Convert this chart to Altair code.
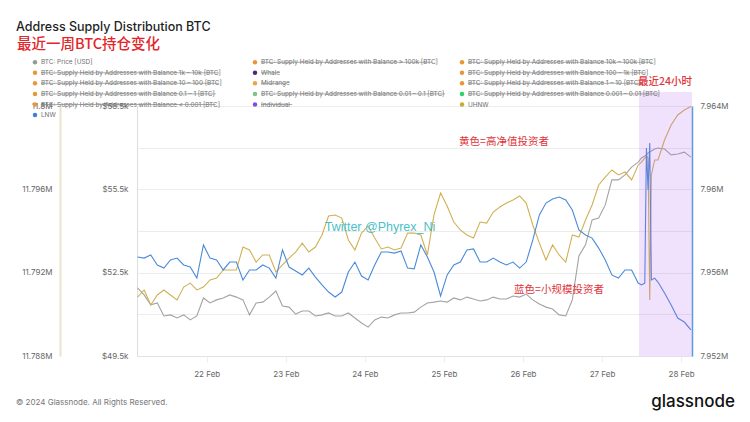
import altair as alt
import pandas as pd
from datetime import datetime, timedelta

# ---------------- data ----------------
hours = list(range(0, 153, 2)) + [153, 154, 154.5, 155, 155.5, 156, 157] + list(range(158, 169, 2))

price = [51950, 51700, 51340, 51410, 50940, 50980, 50870, 50980, 50800, 50940,
         51590, 51410, 51520, 51590, 51700, 51620, 51520, 50980, 51410, 51440,
         51620, 51840, 51300, 51260, 51010, 51120, 51120, 50940, 50980, 51050,
         50940, 50940, 51050, 50870, 50690, 50540, 50800, 50900, 50870, 50980,
         51050, 51050, 51080, 51260, 51410, 51440, 51480, 51440, 51590, 51520,
         51620, 51550, 51480, 51520, 51620, 51550, 51550, 51660, 51620, 51730,
         51520, 51370, 51260, 51190, 50980, 50940, 51520, 53100, 53500, 54400,
         54470, 54940, 55840, 55840, 56020, 56300, 56480,
         56630, 56700, 56740, 56810, 56840, 56880, 56950,
         56990, 56950, 56740, 56770, 56840, 56660]

uhnw = [11.79083, 11.79117, 11.79045, 11.79093, 11.79117, 11.79093, 11.79069, 11.79131, 11.79150, 11.79117,
        11.79131, 11.79165, 11.79174, 11.79213, 11.79213, 11.79213, 11.79323, 11.79309, 11.79251, 11.79285,
        11.79285, 11.79203, 11.79237, 11.79270, 11.79299, 11.79342, 11.79299, 11.79323, 11.79381, 11.79472,
        11.79477, 11.79462, 11.79357, 11.79309, 11.79390, 11.79424, 11.79366, 11.79314, 11.79323, 11.79309,
        11.79318, 11.79390, 11.79390, 11.79381, 11.79285, 11.79477, 11.79582, 11.79520, 11.79443, 11.79405,
        11.79381, 11.79366, 11.79443, 11.79438, 11.79491, 11.79515, 11.79534, 11.79549, 11.79568, 11.79534,
        11.79429, 11.79342, 11.79261, 11.79333, 11.79285, 11.79251, 11.79381, 11.79371, 11.79453, 11.79525,
        11.79621, 11.79659, 11.79693, 11.79669, 11.79683, 11.79645, 11.79717,
        11.79731, 11.79750, 11.79760, 11.79750, 11.79069, 11.79669, 11.79741,
        11.79741, 11.79837, 11.79909, 11.79957, 11.79981, 11.79998]

lnw = [7.95675, 7.95670, 7.95685, 7.95637, 7.95622, 7.95661, 7.95670, 7.95637, 7.95627, 7.95574,
       7.95733, 7.95670, 7.95661, 7.95613, 7.95651, 7.95651, 7.95565, 7.95613, 7.95613, 7.95637,
       7.95622, 7.95574, 7.95709, 7.95627, 7.95608, 7.95589, 7.95622, 7.95579, 7.95541, 7.95507,
       7.95483, 7.95507, 7.95603, 7.95651, 7.95584, 7.95565, 7.95637, 7.95699, 7.95699, 7.95694,
       7.95704, 7.95622, 7.95618, 7.95733, 7.95675, 7.95603, 7.95488, 7.95589, 7.95637, 7.95651,
       7.95709, 7.95714, 7.95651, 7.95651, 7.95670, 7.95651, 7.95637, 7.95651, 7.95622, 7.95651,
       7.95757, 7.95877, 7.95934, 7.95954, 7.95963, 7.95949, 7.95901, 7.95805, 7.95781, 7.95766,
       7.95718, 7.95661, 7.95589, 7.95574, 7.95613, 7.95613, 7.95550,
       7.95541, 7.95550, 7.96198, 7.95997, 7.96222, 7.95565, 7.95574,
       7.95555, 7.95502, 7.95445, 7.95382, 7.95363, 7.95325]

price_ticks = [49500, 51000, 52500, 54000, 55500, 57000, 58500]
uhnw_ticks = [11.788, 11.792, 11.796, 11.8]
lnw_ticks = [7.952, 7.956, 7.96, 7.964]
day_ticks = [22, 23, 24, 25, 26, 27, 28]

legend_labels = [
    "BTC: Price [USD]",
    "BTC: Supply Held by Addresses with Balance > 100k [BTC]",
    "BTC: Supply Held by Addresses with Balance 10k – 100k [BTC]",
    "BTC: Supply Held by Addresses with Balance 1k – 10k [BTC]",
    "Whale",
    "BTC: Supply Held by Addresses with Balance 100 – 1k [BTC]",
    "BTC: Supply Held by Addresses with Balance 10 – 100 [BTC]",
    "Midrange",
    "BTC: Supply Held by Addresses with Balance 1 – 10 [BTC]",
    "BTC: Supply Held by Addresses with Balance 0.1 – 1 [BTC]",
    "BTC: Supply Held by Addresses with Balance 0.01 – 0.1 [BTC]",
    "BTC: Supply Held by Addresses with Balance 0.001 – 0.01 [BTC]",
    "BTC: Supply Held by Addresses with Balance < 0.001 [BTC]",
    "Individual",
    "UHNW",
    "LNW",
]
legend_colors = ["#8f9c9a", "#e8963c", "#e8963c", "#e8963c", "#4b2a7a", "#e8963c",
                 "#e8963c", "#e8a548", "#e8963c", "#e8963c", "#7cc48a", "#2ed46a",
                 "#e8963c", "#7b4fe0", "#c9a83a", "#3b82dc"]
legend_struck = [False, True, True, True, True, True, True, True, True, True, True, True,
                 True, True, False, False]

# ---------------- layout ----------------
W, H = 555, 250
GOLD = "#d1b055"
BLUE = "#4a8ad8"
GRAY = "#a3a3a3"
RED = "#e0343a"

base = datetime(2024, 2, 21, 3, 0)
times = [(base + timedelta(hours=h)).strftime("%Y-%m-%dT%H:%M:%SZ") for h in hours]
df = pd.DataFrame({"t": times, "price": price, "uhnw": uhnw, "lnw": lnw})

xscale = alt.Scale(type="utc", domain=[
    alt.DateTime(year=2024, month=2, date=21, hours=2, minutes=50, utc=True),
    alt.DateTime(year=2024, month=2, date=28, hours=3, minutes=20, utc=True)])
xaxis = alt.Axis(title=None, format="%d %b",
                 values=[alt.DateTime(year=2024, month=2, date=d, utc=True) for d in day_ticks],
                 labelFontSize=8, labelColor="#666", labelPadding=8, tickSize=6,
                 tickColor="#eeeeee", domainColor="#e3e3e3", grid=False, labelFont="Inter")
X = alt.X("t:T", scale=xscale, axis=xaxis)

price_line = alt.Chart(df).mark_line(color=GRAY, strokeWidth=1.1).encode(
    x=X,
    y=alt.Y("price:Q", scale=alt.Scale(domain=[49500, 58500], nice=False, zero=False),
            axis=alt.Axis(orient="left", values=price_ticks, title=None,
                          labelExpr="datum.value % 3000 == 1500 ? '$' + format(datum.value/1000, '.1f') + 'k' : ''",
                          grid=True, gridColor="#ececec", domainColor="#dddddd", ticks=False,
                          labelPadding=9, labelFontSize=8, labelColor="#666", labelFont="Inter")))

uhnw_line = alt.Chart(df).mark_line(color=GOLD, strokeWidth=1.1).encode(
    x=X,
    y=alt.Y("uhnw:Q", scale=alt.Scale(domain=[11.788, 11.8], nice=False, zero=False),
            axis=alt.Axis(orient="left", offset=77, values=uhnw_ticks, title=None,
                          labelExpr="format(datum.value, '.3~f') + 'M'", grid=False,
                          domainColor="#ebe1cc", domainWidth=2, ticks=False,
                          labelPadding=8, labelFontSize=8, labelColor="#666", labelFont="Inter")))

lnw_line = alt.Chart(df).mark_line(color=BLUE, strokeWidth=1.1).encode(
    x=X,
    y=alt.Y("lnw:Q", scale=alt.Scale(domain=[7.952, 7.964], nice=False, zero=False),
            axis=alt.Axis(orient="right", values=lnw_ticks, title=None,
                          labelExpr="format(datum.value, '.3~f') + 'M'", grid=False,
                          domainColor="#5b9be0", domainWidth=1.5, ticks=False,
                          labelPadding=8, labelFontSize=8, labelColor="#666", labelFont="Inter")))

# last-24h highlight
hl = pd.DataFrame({"a": ["2024-02-27T11:15:00Z"], "b": ["2024-02-28T03:20:00Z"]})
highlight = alt.Chart(hl).mark_rect(color="#b36bf0", opacity=0.2).encode(
    x=alt.X("a:T", scale=xscale), x2="b:T", y=alt.value(-14), y2=alt.value(H))


def txt(s, x, y, size, color, font="Inter", weight="normal", align="left"):
    return alt.Chart(pd.DataFrame({"s": [s]})).mark_text(
        fontSize=size, color=color, font=font, fontWeight=weight, align=align,
        baseline="middle").encode(x=alt.value(x), y=alt.value(y), text="s:N")


CJK = "Noto Sans CJK SC"
texts = [
    txt("Address Supply Distribution BTC", -121, -79, 12.5, "#1f1f1f", weight=500),
    txt("最近一周BTC持仓变化", -120, -61, 14.5, "#e3262b", font=CJK, weight=500),
    txt("最近24小时", 528, -24, 10.5, RED, font=CJK, weight=500, align="center"),
    txt("黄色=高净值投资者", 367, 36, 10.5, RED, font=CJK, align="center"),
    txt("蓝色=小规模投资者", 422, 184, 10.5, RED, font=CJK, align="center"),
    txt("Twitter @Phyrex_Ni", 243, 121, 12.5, "#4cbfc8", font="Liberation Sans", align="center"),
    txt("© 2024 Glassnode. All Rights Reserved.", -121, 297, 8, "#777777"),
    txt("glassnode", 598, 296, 17, "#111111", weight=500, align="right"),
]

# legend
col_x = [-102, 118, 325]
row_y = [-43.7, -33.2, -22.7, -12.1, -1.5, 9.0]
CW = 3.12
leg = []
for i, lab in enumerate(legend_labels):
    r, c = divmod(i, 3)
    lx = col_x[c]
    leg.append({"label": lab, "color": legend_colors[i], "dx": lx, "tx": lx + 6,
                "tx2": lx + 6 + len(lab) * CW, "ly": row_y[r], "struck": legend_struck[i]})
legdf = pd.DataFrame(leg)
legend_dots = alt.Chart(legdf).mark_circle(size=20, opacity=1).encode(
    x=alt.X("dx:Q", scale=None, axis=None), y=alt.Y("ly:Q", scale=None, axis=None),
    color=alt.Color("color:N", scale=None))
legend_text = alt.Chart(legdf).mark_text(align="left", baseline="middle", fontSize=6.4,
                                         font="Inter", color="#6f6f6f").encode(
    x=alt.X("tx:Q", scale=None, axis=None), y=alt.Y("ly:Q", scale=None, axis=None),
    text="label:N")
legend_strike = alt.Chart(legdf).transform_filter("datum.struck").mark_rule(
    color="#8a8a8a", strokeWidth=0.7).encode(
    x=alt.X("tx:Q", scale=None, axis=None), x2="tx2:Q",
    y=alt.Y("ly:Q", scale=None, axis=None))

chart = alt.layer(price_line, uhnw_line, lnw_line, highlight,
                  legend_dots, legend_text, legend_strike, *texts).resolve_scale(
    y="independent").properties(
    width=W, height=H,
    autosize=alt.AutoSizeParams(type="none"),
    padding={"left": 129, "top": 98, "right": 50, "bottom": 58},
).configure_view(stroke=None).configure(background="white")

chart.save("out.html", embed_options={"renderer": "svg", "actions": False})
